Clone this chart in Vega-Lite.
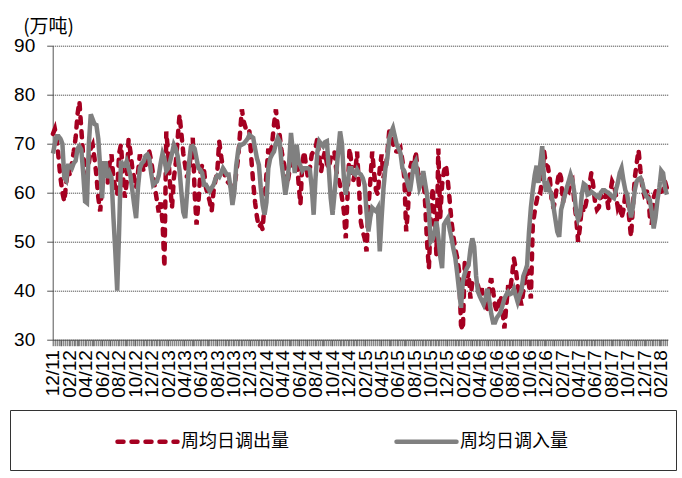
{
"$schema":"https://vega.github.io/schema/vega-lite/v6.json",
"width":615,"height":294,
"autosize":{"type":"none"},
"padding":{"left":52.7,"top":45.7,"right":14.3,"bottom":138.3},
"config":{"view":{"stroke":null},"font":"Liberation Sans"},
"data":{"values":[
{"d":"2011-12-02","周均日调出量":72,"周均日调入量":68},
{"d":"2011-12-09","周均日调出量":73,"周均日调入量":70},
{"d":"2011-12-16","周均日调出量":71,"周均日调入量":71.5},
{"d":"2011-12-23","周均日调出量":67,"周均日调入量":71.5},
{"d":"2011-12-30","周均日调出量":63,"周均日调入量":71},
{"d":"2012-01-06","周均日调出量":60,"周均日调入量":70},
{"d":"2012-01-13","周均日调出量":58.2,"周均日调入量":63},
{"d":"2012-01-20","周均日调出量":62,"周均日调入量":62.5},
{"d":"2012-01-27","周均日调出量":65,"周均日调入量":65.5},
{"d":"2012-02-03","周均日调出量":63.5,"周均日调入量":65.5},
{"d":"2012-02-10","周均日调出量":66,"周均日调入量":65},
{"d":"2012-02-17","周均日调出量":68.4,"周均日调入量":66},
{"d":"2012-02-24","周均日调出量":71.2,"周均日调入量":66.5},
{"d":"2012-03-02","周均日调出量":76,"周均日调入量":69},
{"d":"2012-03-09","周均日调出量":78.6,"周均日调入量":69.5},
{"d":"2012-03-16","周均日调出量":73,"周均日调入量":68.8},
{"d":"2012-03-23","周均日调出量":67.5,"周均日调入量":64},
{"d":"2012-03-30","周均日调出量":65,"周均日调入量":58.2},
{"d":"2012-04-06","周均日调出量":63.7,"周均日调入量":57.9},
{"d":"2012-04-13","周均日调出量":66,"周均日调入量":70},
{"d":"2012-04-20","周均日调出量":69,"周均日调入量":76},
{"d":"2012-04-27","周均日调出量":69.8,"周均日调入量":75},
{"d":"2012-05-04","周均日调出量":67,"周均日调入量":74},
{"d":"2012-05-11","周均日调出量":63.5,"周均日调入量":73.8},
{"d":"2012-05-18","周均日调出量":59,"周均日调入量":71},
{"d":"2012-05-25","周均日调出量":56.2,"周均日调入量":65},
{"d":"2012-06-01","周均日调出量":61,"周均日调入量":58.9},
{"d":"2012-06-08","周均日调出量":64.5,"周均日调入量":66},
{"d":"2012-06-15","周均日调出量":66,"周均日调入量":66},
{"d":"2012-06-22","周均日调出量":62,"周均日调入量":63},
{"d":"2012-06-29","周均日调出量":66,"周均日调入量":64},
{"d":"2012-07-06","周均日调出量":67.8,"周均日调入量":63},
{"d":"2012-07-13","周均日调出量":63,"周均日调入量":55},
{"d":"2012-07-20","周均日调出量":61,"周均日调入量":48},
{"d":"2012-07-27","周均日调出量":59.6,"周均日调入量":40},
{"d":"2012-08-03","周均日调出量":68,"周均日调入量":52},
{"d":"2012-08-10","周均日调出量":69.8,"周均日调入量":66.5},
{"d":"2012-08-17","周均日调出量":64,"周均日调入量":65.5},
{"d":"2012-08-24","周均日调出量":59,"周均日调入量":65.5},
{"d":"2012-08-31","周均日调出量":62,"周均日调入量":66.4},
{"d":"2012-09-07","周均日调出量":70.8,"周均日调入量":65},
{"d":"2012-09-14","周均日调出量":68.4,"周均日调入量":63.5},
{"d":"2012-09-21","周均日调出量":65,"周均日调入量":60.5},
{"d":"2012-09-28","周均日调出量":63,"周均日调入量":57.5},
{"d":"2012-10-05","周均日调出量":61,"周均日调入量":54.8},
{"d":"2012-10-12","周均日调出量":64,"周均日调入量":61},
{"d":"2012-10-19","周均日调出量":67.8,"周均日调入量":65},
{"d":"2012-10-26","周均日调出量":66,"周均日调入量":66},
{"d":"2012-11-02","周均日调出量":64.4,"周均日调入量":66.4},
{"d":"2012-11-09","周均日调出量":65.5,"周均日调入量":67.5},
{"d":"2012-11-16","周均日调出量":67,"周均日调入量":67.8},
{"d":"2012-11-23","周均日调出量":68.4,"周均日调入量":67},
{"d":"2012-11-30","周均日调出量":66.5,"周均日调入量":64},
{"d":"2012-12-07","周均日调出量":63.7,"周均日调入量":61.6},
{"d":"2012-12-14","周均日调出量":61,"周均日调入量":62},
{"d":"2012-12-21","周均日调出量":58.5,"周均日调入量":62.3},
{"d":"2012-12-28","周均日调出量":56,"周均日调入量":63.5},
{"d":"2013-01-04","周均日调出量":58,"周均日调入量":66},
{"d":"2013-01-11","周均日调出量":54,"周均日调入量":68},
{"d":"2013-01-18","周均日调出量":44.8,"周均日调入量":67},
{"d":"2013-01-25","周均日调出量":72.5,"周均日调入量":64.5},
{"d":"2013-02-01","周均日调出量":68,"周均日调入量":65},
{"d":"2013-02-08","周均日调出量":61.6,"周均日调入量":66.4},
{"d":"2013-02-15","周均日调出量":56.9,"周均日调入量":68},
{"d":"2013-02-22","周均日调出量":63,"周均日调入量":69.8},
{"d":"2013-03-01","周均日调出量":66,"周均日调入量":69},
{"d":"2013-03-08","周均日调出量":71,"周均日调入量":67.5},
{"d":"2013-03-15","周均日调出量":75.9,"周均日调入量":64.5},
{"d":"2013-03-22","周均日调出量":72,"周均日调入量":60},
{"d":"2013-03-29","周均日调出量":68,"周均日调入量":56},
{"d":"2013-04-05","周均日调出量":65.5,"周均日调入量":54.8},
{"d":"2013-04-12","周均日调出量":63,"周均日调入量":60},
{"d":"2013-04-19","周均日调出量":64.5,"周均日调入量":66},
{"d":"2013-04-26","周均日调出量":68,"周均日调入量":69.3},
{"d":"2013-05-03","周均日调出量":71.2,"周均日调入量":69.5},
{"d":"2013-05-10","周均日调出量":60,"周均日调入量":69},
{"d":"2013-05-17","周均日调出量":53.5,"周均日调入量":67},
{"d":"2013-05-24","周均日调出量":58,"周均日调入量":65},
{"d":"2013-05-31","周均日调出量":64,"周均日调入量":64.7},
{"d":"2013-06-07","周均日调出量":65.7,"周均日调入量":64},
{"d":"2013-06-14","周均日调出量":64.5,"周均日调入量":61.6},
{"d":"2013-06-21","周均日调出量":61,"周均日调入量":61.6},
{"d":"2013-06-28","周均日调出量":59.6,"周均日调入量":61},
{"d":"2013-07-05","周均日调出量":58.2,"周均日调入量":60.3},
{"d":"2013-07-12","周均日调出量":56.2,"周均日调入量":61},
{"d":"2013-07-19","周均日调出量":60.3,"周均日调入量":61.6},
{"d":"2013-07-26","周均日调出量":62.5,"周均日调入量":62.8},
{"d":"2013-08-02","周均日调出量":64.4,"周均日调入量":63.5},
{"d":"2013-08-09","周均日调出量":70.5,"周均日调入量":63.2},
{"d":"2013-08-16","周均日调出量":67.5,"周均日调入量":64},
{"d":"2013-08-23","周均日调出量":65,"周均日调入量":65},
{"d":"2013-08-30","周均日调出量":63.5,"周均日调入量":64.4},
{"d":"2013-09-06","周均日调出量":62.3,"周均日调入量":63.7},
{"d":"2013-09-13","周均日调出量":62,"周均日调入量":63.7},
{"d":"2013-09-20","周均日调出量":61.6,"周均日调入量":61},
{"d":"2013-09-27","周均日调出量":59.6,"周均日调入量":57.5},
{"d":"2013-10-04","周均日调出量":61,"周均日调入量":60},
{"d":"2013-10-11","周均日调出量":64,"周均日调入量":65.5},
{"d":"2013-10-18","周均日调出量":67,"周均日调入量":68.5},
{"d":"2013-10-25","周均日调出量":72,"周均日调入量":69.8},
{"d":"2013-11-01","周均日调出量":77,"周均日调入量":69.8},
{"d":"2013-11-08","周均日调出量":74.5,"周均日调入量":70},
{"d":"2013-11-15","周均日调出量":73.2,"周均日调入量":70.5},
{"d":"2013-11-22","周均日调出量":73.5,"周均日调入量":71},
{"d":"2013-11-29","周均日调出量":72.5,"周均日调入量":71.8},
{"d":"2013-12-06","周均日调出量":67,"周均日调入量":71.5},
{"d":"2013-12-13","周均日调出量":62,"周均日调入量":71.2},
{"d":"2013-12-20","周均日调出量":58,"周均日调入量":69},
{"d":"2013-12-27","周均日调出量":55,"周均日调入量":67},
{"d":"2014-01-03","周均日调出量":53,"周均日调入量":65.7},
{"d":"2014-01-10","周均日调出量":53.5,"周均日调入量":61},
{"d":"2014-01-17","周均日调出量":52.5,"周均日调入量":57.5},
{"d":"2014-01-24","周均日调出量":58,"周均日调入量":55.5},
{"d":"2014-01-31","周均日调出量":63.7,"周均日调入量":58},
{"d":"2014-02-07","周均日调出量":69,"周均日调入量":65},
{"d":"2014-02-14","周均日调出量":67.5,"周均日调入量":67},
{"d":"2014-02-21","周均日调出量":70,"周均日调入量":67.8},
{"d":"2014-02-28","周均日调出量":73.9,"周均日调入量":68.4},
{"d":"2014-03-07","周均日调出量":77,"周均日调入量":70},
{"d":"2014-03-14","周均日调出量":73.5,"周均日调入量":71.2},
{"d":"2014-03-21","周均日调出量":71.8,"周均日调入量":70.5},
{"d":"2014-03-28","周均日调出量":68.5,"周均日调入量":66},
{"d":"2014-04-04","周均日调出量":66.5,"周均日调入量":63},
{"d":"2014-04-11","周均日调出量":64.5,"周均日调入量":59.6},
{"d":"2014-04-18","周均日调出量":61.6,"周均日调入量":62},
{"d":"2014-04-25","周均日调出量":64,"周均日调入量":66},
{"d":"2014-05-02","周均日调出量":66.5,"周均日调入量":72.2},
{"d":"2014-05-09","周均日调出量":68.4,"周均日调入量":68.4},
{"d":"2014-05-16","周均日调出量":68,"周均日调入量":64},
{"d":"2014-05-23","周均日调出量":67.5,"周均日调入量":69.8},
{"d":"2014-05-30","周均日调出量":62,"周均日调入量":66.5},
{"d":"2014-06-06","周均日调出量":57.6,"周均日调入量":65.5},
{"d":"2014-06-13","周均日调出量":66,"周均日调入量":64.5},
{"d":"2014-06-20","周均日调出量":68.4,"周均日调入量":65},
{"d":"2014-06-27","周均日调出量":65.5,"周均日调入量":65},
{"d":"2014-07-04","周均日调出量":63,"周均日调入量":65},
{"d":"2014-07-11","周均日调出量":65,"周均日调入量":64.7},
{"d":"2014-07-18","周均日调出量":67.8,"周均日调入量":61},
{"d":"2014-07-25","周均日调出量":68.5,"周均日调入量":55.5},
{"d":"2014-08-01","周均日调出量":69.1,"周均日调入量":63},
{"d":"2014-08-08","周均日调出量":71.2,"周均日调入量":68.4},
{"d":"2014-08-15","周均日调出量":67,"周均日调入量":70.5},
{"d":"2014-08-22","周均日调出量":64.4,"周均日调入量":70},
{"d":"2014-08-29","周均日调出量":67,"周均日调入量":69.5},
{"d":"2014-09-05","周均日调出量":68.4,"周均日调入量":70.3},
{"d":"2014-09-12","周均日调出量":66,"周均日调入量":70.5},
{"d":"2014-09-19","周均日调出量":65,"周均日调入量":65},
{"d":"2014-09-26","周均日调出量":67,"周均日调入量":59},
{"d":"2014-10-03","周均日调出量":68,"周均日调入量":55.5},
{"d":"2014-10-10","周均日调出量":68.4,"周均日调入量":59.6},
{"d":"2014-10-17","周均日调出量":64.5,"周均日调入量":64},
{"d":"2014-10-24","周均日调出量":63,"周均日调入量":68.4},
{"d":"2014-10-31","周均日调出量":61.6,"周均日调入量":72.5},
{"d":"2014-11-07","周均日调出量":59,"周均日调入量":70},
{"d":"2014-11-14","周均日调出量":56.2,"周均日调入量":63},
{"d":"2014-11-21","周均日调出量":50.7,"周均日调入量":59.6},
{"d":"2014-11-28","周均日调出量":60,"周均日调入量":62},
{"d":"2014-12-05","周均日调出量":69.1,"周均日调入量":65},
{"d":"2014-12-12","周均日调出量":66,"周均日调入量":65},
{"d":"2014-12-19","周均日调出量":62.5,"周均日调入量":64},
{"d":"2014-12-26","周均日调出量":64,"周均日调入量":63.7},
{"d":"2015-01-02","周均日调出量":68.4,"周均日调入量":64.7},
{"d":"2015-01-09","周均日调出量":61,"周均日调入量":64},
{"d":"2015-01-16","周均日调出量":54,"周均日调入量":63.7},
{"d":"2015-01-23","周均日调出量":52,"周均日调入量":63},
{"d":"2015-01-30","周均日调出量":50.7,"周均日调入量":61.6},
{"d":"2015-02-06","周均日调出量":48,"周均日调入量":56},
{"d":"2015-02-13","周均日调出量":57,"周均日调入量":52.1},
{"d":"2015-02-20","周均日调出量":62.3,"周均日调入量":55},
{"d":"2015-02-27","周均日调出量":68.4,"周均日调入量":56.9},
{"d":"2015-03-06","周均日调出量":64,"周均日调入量":56.5},
{"d":"2015-03-13","周均日调出量":60.5,"周均日调入量":56.2},
{"d":"2015-03-20","周均日调出量":59.6,"周均日调入量":56.9},
{"d":"2015-03-27","周均日调出量":65,"周均日调入量":48},
{"d":"2015-04-03","周均日调出量":67.8,"周均日调入量":55},
{"d":"2015-04-10","周均日调出量":63,"周均日调入量":61},
{"d":"2015-04-17","周均日调出量":64.5,"周均日调入量":65},
{"d":"2015-04-24","周均日调出量":68,"周均日调入量":67},
{"d":"2015-05-01","周均日调出量":72.5,"周均日调入量":71},
{"d":"2015-05-08","周均日调出量":71.5,"周均日调入量":72.3},
{"d":"2015-05-15","周均日调出量":70,"周均日调入量":73.2},
{"d":"2015-05-22","周均日调出量":68.5,"周均日调入量":71.5},
{"d":"2015-05-29","周均日调出量":68.4,"周均日调入量":69.8},
{"d":"2015-06-05","周均日调出量":68.4,"周均日调入量":69},
{"d":"2015-06-12","周均日调出量":69,"周均日调入量":68},
{"d":"2015-06-19","周均日调出量":66.5,"周均日调入量":65},
{"d":"2015-06-26","周均日调出量":63,"周均日调入量":64.4},
{"d":"2015-07-03","周均日调出量":52.1,"周均日调入量":63},
{"d":"2015-07-10","周均日调出量":57,"周均日调入量":61.5},
{"d":"2015-07-17","周均日调出量":65,"周均日调入量":60.3},
{"d":"2015-07-24","周均日调出量":66.4,"周均日调入量":63},
{"d":"2015-07-31","周均日调出量":64,"周均日调入量":65.7},
{"d":"2015-08-07","周均日调出量":68.4,"周均日调入量":66.4},
{"d":"2015-08-14","周均日调出量":65,"周均日调入量":63.5},
{"d":"2015-08-21","周均日调出量":61.6,"周均日调入量":61},
{"d":"2015-08-28","周均日调出量":63,"周均日调入量":62},
{"d":"2015-09-04","周均日调出量":64,"周均日调入量":64.4},
{"d":"2015-09-11","周均日调出量":58,"周均日调入量":62},
{"d":"2015-09-18","周均日调出量":50.1,"周均日调入量":59.6},
{"d":"2015-09-25","周均日调出量":44.5,"周均日调入量":56.2},
{"d":"2015-10-02","周均日调出量":55,"周均日调入量":50},
{"d":"2015-10-09","周均日调出量":61,"周均日调入量":50.5},
{"d":"2015-10-16","周均日调出量":55,"周均日调入量":52},
{"d":"2015-10-23","周均日调出量":47.3,"周均日调入量":54.1},
{"d":"2015-10-30","周均日调出量":69,"周均日调入量":51},
{"d":"2015-11-06","周均日调出量":55,"周均日调入量":47},
{"d":"2015-11-13","周均日调出量":61.6,"周均日调入量":44.6},
{"d":"2015-11-20","周均日调出量":64.4,"周均日调入量":53.5},
{"d":"2015-11-27","周均日调出量":65.7,"周均日调入量":54.2},
{"d":"2015-12-04","周均日调出量":62.5,"周均日调入量":54.8},
{"d":"2015-12-11","周均日调出量":58.5,"周均日调入量":52.5},
{"d":"2015-12-18","周均日调出量":54,"周均日调入量":50.7},
{"d":"2015-12-25","周均日调出量":51,"周均日调入量":48.5},
{"d":"2016-01-01","周均日调出量":48.5,"周均日调入量":46.7},
{"d":"2016-01-08","周均日调出量":46.7,"周均日调入量":43.5},
{"d":"2016-01-15","周均日调出量":44,"周均日调入量":40},
{"d":"2016-01-22","周均日调出量":33,"周均日调入量":36.5},
{"d":"2016-01-29","周均日调出量":32,"周均日调入量":42},
{"d":"2016-02-05","周均日调出量":46,"周均日调入量":43.5},
{"d":"2016-02-12","周均日调出量":41,"周均日调入量":44.5},
{"d":"2016-02-19","周均日调出量":44,"周均日调入量":45.2},
{"d":"2016-02-26","周均日调出量":38.4,"周均日调入量":48.5},
{"d":"2016-03-04","周均日调出量":41.8,"周均日调入量":50.7},
{"d":"2016-03-11","周均日调出量":42,"周均日调入量":49},
{"d":"2016-03-18","周均日调出量":41.8,"周均日调入量":43},
{"d":"2016-03-25","周均日调出量":41,"周均日调入量":39.8},
{"d":"2016-04-01","周均日调出量":39.5,"周均日调入量":38.8},
{"d":"2016-04-08","周均日调出量":40.5,"周均日调入量":38},
{"d":"2016-04-15","周均日调出量":37.7,"周均日调入量":37.2},
{"d":"2016-04-22","周均日调出量":36.5,"周均日调入量":38.5},
{"d":"2016-04-29","周均日调出量":35.7,"周均日调入量":40.4},
{"d":"2016-05-06","周均日调出量":41.1,"周均日调入量":38},
{"d":"2016-05-13","周均日调出量":42.5,"周均日调入量":35.3},
{"d":"2016-05-20","周均日调出量":40,"周均日调入量":33.5},
{"d":"2016-05-27","周均日调出量":37,"周均日调入量":33.5},
{"d":"2016-06-03","周均日调出量":35.7,"周均日调入量":34.5},
{"d":"2016-06-10","周均日调出量":37.5,"周均日调入量":35},
{"d":"2016-06-17","周均日调出量":39,"周均日调入量":35.7},
{"d":"2016-06-24","周均日调出量":35.7,"周均日调入量":37},
{"d":"2016-07-01","周均日调出量":32.3,"周均日调入量":38.4},
{"d":"2016-07-08","周均日调出量":37,"周均日调入量":39.2},
{"d":"2016-07-15","周均日调出量":41.1,"周均日调入量":39.8},
{"d":"2016-07-22","周均日调出量":40,"周均日调入量":39.3},
{"d":"2016-07-29","周均日调出量":43,"周均日调入量":39.5},
{"d":"2016-08-05","周均日调出量":46.6,"周均日调入量":40.4},
{"d":"2016-08-12","周均日调出量":44.5,"周均日调入量":39},
{"d":"2016-08-19","周均日调出量":41,"周均日调入量":37.7},
{"d":"2016-08-26","周均日调出量":39,"周均日调入量":39},
{"d":"2016-09-02","周均日调出量":37,"周均日调入量":40},
{"d":"2016-09-09","周均日调出量":40,"周均日调入量":43},
{"d":"2016-09-16","周均日调出量":42.5,"周均日调入量":44},
{"d":"2016-09-23","周均日调出量":44.5,"周均日调入量":45.2},
{"d":"2016-09-30","周均日调出量":41.1,"周均日调入量":52},
{"d":"2016-10-07","周均日调出量":38.4,"周均日调入量":57},
{"d":"2016-10-14","周均日调出量":53.4,"周均日调入量":60.5},
{"d":"2016-10-21","周均日调出量":56.1,"周均日调入量":63.5},
{"d":"2016-10-28","周均日调出量":58.2,"周均日调入量":65.5},
{"d":"2016-11-04","周均日调出量":60.2,"周均日调入量":62},
{"d":"2016-11-11","周均日调出量":60,"周均日调入量":66},
{"d":"2016-11-18","周均日调出量":63,"周均日调入量":69.5},
{"d":"2016-11-25","周均日调出量":68.4,"周均日调入量":62.5},
{"d":"2016-12-02","周均日调出量":65.7,"周均日调入量":60.2},
{"d":"2016-12-09","周均日调出量":65.3,"周均日调入量":61.6},
{"d":"2016-12-16","周均日调出量":63,"周均日调入量":60.5},
{"d":"2016-12-23","周均日调出量":58.5,"周均日调入量":59.5},
{"d":"2016-12-30","周均日调出量":56.8,"周均日调入量":57},
{"d":"2017-01-06","周均日调出量":59,"周均日调入量":54.5},
{"d":"2017-01-13","周均日调出量":62,"周均日调入量":52},
{"d":"2017-01-20","周均日调出量":64.3,"周均日调入量":51},
{"d":"2017-01-27","周均日调出量":63,"周均日调入量":56.5},
{"d":"2017-02-03","周均日调出量":58,"周均日调入量":58},
{"d":"2017-02-10","周均日调出量":60.2,"周均日调入量":59.5},
{"d":"2017-02-17","周均日调出量":60.5,"周均日调入量":61},
{"d":"2017-02-24","周均日调出量":60.2,"周均日调入量":62.3},
{"d":"2017-03-03","周均日调出量":62,"周均日调入量":63.7},
{"d":"2017-03-10","周均日调出量":62.5,"周均日调入量":62.5},
{"d":"2017-03-17","周均日调出量":58,"周均日调入量":60},
{"d":"2017-03-24","周均日调出量":54.8,"周均日调入量":56},
{"d":"2017-03-31","周均日调出量":50,"周均日调入量":54.5},
{"d":"2017-04-07","周均日调出量":53,"周均日调入量":55.5},
{"d":"2017-04-14","周均日调出量":57.5,"周均日调入量":59.8},
{"d":"2017-04-21","周均日调出量":56,"周均日调入量":61.8},
{"d":"2017-04-28","周均日调出量":57.5,"周均日调入量":61.5},
{"d":"2017-05-05","周均日调出量":59.5,"周均日调入量":59.6},
{"d":"2017-05-12","周均日调出量":61.6,"周均日调入量":59.8},
{"d":"2017-05-19","周均日调出量":64,"周均日调入量":60.2},
{"d":"2017-05-26","周均日调出量":61.5,"周均日调入量":59.9},
{"d":"2017-06-02","周均日调出量":58,"周均日调入量":59.6},
{"d":"2017-06-09","周均日调出量":56.5,"周均日调入量":59.2},
{"d":"2017-06-16","周均日调出量":57,"周均日调入量":59},
{"d":"2017-06-23","周均日调出量":59.6,"周均日调入量":60},
{"d":"2017-06-30","周均日调出量":58.5,"周均日调入量":60.5},
{"d":"2017-07-07","周均日调出量":58.5,"周均日调入量":60.5},
{"d":"2017-07-14","周均日调出量":60,"周均日调入量":60.2},
{"d":"2017-07-21","周均日调出量":56.8,"周均日调入量":60},
{"d":"2017-07-28","周均日调出量":60,"周均日调入量":59.6},
{"d":"2017-08-04","周均日调出量":62.3,"周均日调入量":59.2},
{"d":"2017-08-11","周均日调出量":61.5,"周均日调入量":58.9},
{"d":"2017-08-18","周均日调出量":59.6,"周均日调入量":60.5},
{"d":"2017-08-25","周均日调出量":57,"周均日调入量":62},
{"d":"2017-09-01","周均日调出量":58,"周均日调入量":64},
{"d":"2017-09-08","周均日调出量":54.8,"周均日调入量":65},
{"d":"2017-09-15","周均日调出量":56.5,"周均日调入量":62.5},
{"d":"2017-09-22","周均日调出量":59.6,"周均日调入量":60.5},
{"d":"2017-09-29","周均日调出量":59.5,"周均日调入量":59.6},
{"d":"2017-10-06","周均日调出量":55,"周均日调入量":57},
{"d":"2017-10-13","周均日调出量":51,"周均日调入量":55},
{"d":"2017-10-20","周均日调出量":57,"周均日调入量":57},
{"d":"2017-10-27","周均日调出量":63,"周均日调入量":60.5},
{"d":"2017-11-03","周均日调出量":66,"周均日调入量":62.3},
{"d":"2017-11-10","周均日调出量":68.7,"周均日调入量":62.8},
{"d":"2017-11-17","周均日调出量":64.5,"周均日调入量":63},
{"d":"2017-11-24","周均日调出量":61.2,"周均日调入量":62},
{"d":"2017-12-01","周均日调出量":59.5,"周均日调入量":60.2},
{"d":"2017-12-08","周均日调出量":60,"周均日调入量":59.3},
{"d":"2017-12-15","周均日调出量":60.5,"周均日调入量":58.9},
{"d":"2017-12-22","周均日调出量":55,"周均日调入量":58.5},
{"d":"2017-12-29","周均日调出量":53.5,"周均日调入量":56},
{"d":"2018-01-05","周均日调出量":59,"周均日调入量":52.7},
{"d":"2018-01-12","周均日调出量":60.2,"周均日调入量":55},
{"d":"2018-01-19","周均日调出量":61,"周均日调入量":58.5},
{"d":"2018-01-26","周均日调出量":60.2,"周均日调入量":61},
{"d":"2018-02-02","周均日调出量":60.2,"周均日调入量":64.5},
{"d":"2018-02-09","周均日调出量":60.5,"周均日调入量":64},
{"d":"2018-02-16","周均日调出量":62.3,"周均日调入量":61},
{"d":"2018-02-23","周均日调出量":60.9,"周均日调入量":59.6}
]},
"transform":[{"fold":["周均日调出量","周均日调入量"],"as":["s","v"]}],
"encoding":{
"x":{"field":"d","type":"temporal",
"scale":{"domain":[{"year":2011,"month":12,"date":1},{"year":2018,"month":2,"date":26}]},
"axis":{"title":null,"tickCount":{"interval":"day","step":7},
"labelExpr":"date(datum.value)==1 && month(datum.value)%2==1 ? timeFormat(datum.value,'%m/%y') : ''",
"labelAngle":-90,"labelAlign":"right","labelBaseline":"middle","labelFontSize":19,"labelColor":"#000","labelPadding":4,"labelOverlap":false,"labelFlush":false,
"tickSize":6,"tickColor":"#555","domainColor":"#555","grid":false,"zindex":1,
"encode":{"ticks":{"update":{"y2":{"signal":"date(datum.value)==1 && month(datum.value)%2==1 ? 6 : 2"}}}}}},
"y":{"field":"v","type":"quantitative",
"scale":{"domain":[30,90],"nice":false,"zero":false},
"axis":{"title":"(万吨)","titleAngle":0,"titleX":-30,"titleY":-19,"titleAlign":"left","titleBaseline":"middle","titleFont":"Noto Sans CJK SC","titleFontSize":19,"titleFontWeight":"normal","titleColor":"#000",
"values":[30,40,50,60,70,80,90],"labelFontSize":19,"labelColor":"#000","labelPadding":12,"tickSize":6,"tickColor":"#555","domainColor":"#555",
"gridColor":"#333","gridDash":[1,1],"gridWidth":1}},
"color":{"field":"s","type":"nominal","scale":{"domain":["周均日调出量","周均日调入量"],"range":["#a50021","#808080"]},
"legend":{"title":null,"orient":"none","legendX":-42.7,"legendY":364.3,"direction":"horizontal","strokeColor":"#333","padding":19,"symbolType":"M-3,0L3,0","symbolSize":400,"symbolStrokeWidth":4.5,"symbolOffset":106,"labelFont":"Noto Sans CJK SC","labelFontSize":18,"labelColor":"#000","labelOffset":21,"columnPadding":19,
"encode":{"symbols":{"update":{"strokeCap":{"value":"round"},"shape":{"signal":"datum.value == '周均日调入量' ? 'M-3,0L3,0M22.1,0' : 'M-3,0L3,0'"}}}}}},
"strokeDash":{"field":"s","type":"nominal","scale":{"domain":["周均日调出量","周均日调入量"],"range":[[6,8],[1,0]]},
"legend":{"title":null,"orient":"none","legendX":-42.7,"legendY":364.3,"direction":"horizontal","strokeColor":"#333","padding":19,"symbolType":"M-3,0L3,0","symbolSize":400,"symbolStrokeWidth":4.5,"symbolOffset":106,"labelFont":"Noto Sans CJK SC","labelFontSize":18,"labelColor":"#000","labelOffset":21,"columnPadding":19,
"encode":{"symbols":{"update":{"strokeCap":{"value":"round"},"shape":{"signal":"datum.value == '周均日调入量' ? 'M-3,0L3,0M22.1,0' : 'M-3,0L3,0'"}}}}}}
},
"layer":[
{"transform":[{"filter":"datum.s=='周均日调出量'"}],"mark":{"type":"line","strokeWidth":4.5,"strokeCap":"round"}},
{"transform":[{"filter":"datum.s=='周均日调入量'"}],"mark":{"type":"line","strokeWidth":4.5}}
]
}
